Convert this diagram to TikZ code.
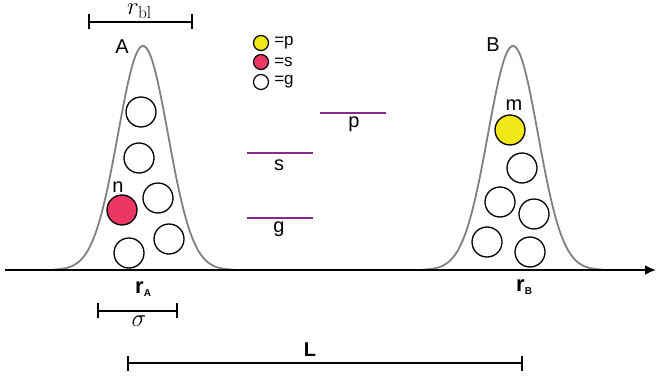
\documentclass[tikz,border=0pt]{standalone}
\usepackage[no-math]{fontspec}
\setmainfont{Liberation Sans}
\usetikzlibrary{arrows.meta}

\definecolor{levelpurple}{RGB}{135,40,140}
\definecolor{sred}{RGB}{235,55,100}
\definecolor{pyellow}{RGB}{240,232,25}

\tikzset{
    atom/.style={draw, circle, line width=1.3pt, minimum size=30pt, inner sep=0pt},
    gatom/.style={atom, fill=white},
    satom/.style={atom, fill=sred},
    patom/.style={atom, fill=pyellow},
    keyatom/.style={draw, circle, line width=1.2pt, minimum size=15pt, inner sep=0pt},
    level/.style={draw=levelpurple, line width=2.8pt},
    bell/.style={draw=black!50, line width=1.8pt},
    ruler/.style={line width=1.8pt, {Bar[width=15pt]}-{Bar[width=15pt]}},
    lab/.style={inner sep=0pt, font=\fontsize{20}{22}\selectfont},
    keylab/.style={inner sep=0pt, anchor=west, xshift=5pt, font=\fontsize{17}{19}\selectfont},
}

\begin{document}
\begin{tikzpicture}[x=1pt, y=-1pt]
        \useasboundingbox (0,0) rectangle (656,379);

        % gaussian wells
        \draw[bell] plot[domain=-90:90, samples=121] ({143+\x}, {270-224*exp(-((\x)*(\x))/1250)});
        \draw[bell] plot[domain=-90:90, samples=121] ({513+\x}, {270-224*exp(-((\x)*(\x))/1250)});

        % axis
        \coordinate (axisL) at (5,270);
        \coordinate (axisR) at (656,270);
        \draw[line width=2pt, -{Latex[length=11pt, width=10pt]}] (axisL) -- (axisR);

        % atoms in A
        \node[gatom] (a1) at (141,112) {};
        \node[gatom] (a2) at (139,158) {};
        \node[gatom] (a3) at (158,198) {};
        \node[satom] (a4) at (122,210) {};
        \node[gatom] (a5) at (169,239) {};
        \node[gatom] (a6) at (129,253) {};

        % atoms in B
        \node[patom] (b1) at (510,130) {};
        \node[gatom] (b2) at (522,168) {};
        \node[gatom] (b3) at (500,202) {};
        \node[gatom] (b4) at (534,214) {};
        \node[gatom] (b5) at (487,242) {};
        \node[gatom] (b6) at (530,252) {};

        \node[lab] (labA) at (122,47) {A};
        \node[lab] (labB) at (493,45) {B};
        \node[lab] (labn) at (118,187) {n};
        \node[lab] (labm) at (514,105) {m};

        % legend
        \node[keyatom, fill=pyellow] (k1) at (261,43) {};
        \node[keyatom, fill=sred] (k2) at (261,62) {};
        \node[keyatom, fill=white] (k3) at (261,82) {};
        \node[keylab] (k1t) at (k1.east) {=p};
        \node[keylab] (k2t) at (k2.east) {=s};
        \node[keylab] (k3t) at (k3.east) {=g};

        % levels
        \coordinate (p1) at (320,113);
        \coordinate (p2) at (386,113);
        \coordinate (s1) at (247,153);
        \coordinate (s2) at (313,153);
        \coordinate (g1) at (247,218);
        \coordinate (g2) at (313,218);
        \draw[level] (p1) -- (p2);
        \draw[level] (s1) -- (s2);
        \draw[level] (g1) -- (g2);
        \node[lab] (labp) at (354,124) {p};
        \node[lab] (labs) at (279,165) {s};
        \node[lab] (labg) at (279,229) {g};

        % rulers
        \coordinate (bl1) at (88,22);
        \coordinate (bl2) at (193,22);
        \draw[ruler] (bl1) -- (bl2);
        \node[inner sep=0pt, anchor=base west, font=\fontsize{23}{25}\selectfont] (labbl) at (127,15) {$r_{\mathrm{bl}}$};

        \coordinate (sg1) at (97,311);
        \coordinate (sg2) at (178,311);
        \draw[ruler] (sg1) -- (sg2);
        \node[inner sep=0pt, font=\fontsize{24}{26}\selectfont] (labsg) at (139,321) {$\sigma$};

        \coordinate (L1) at (127,363);
        \coordinate (L2) at (523,363);
        \draw[ruler] (L1) -- (L2);
        \node[inner sep=0pt, font=\fontsize{20}{22}\selectfont\bfseries] (labL) at (310,350) {L};

        \node[inner sep=0pt, anchor=base west, font=\fontsize{22}{24}\selectfont\bfseries] (rA) at (135,294) {r\raisebox{-3pt}{\fontsize{10}{11}\selectfont A}};
        \node[inner sep=0pt, anchor=base west, font=\fontsize{22}{24}\selectfont\bfseries] (rB) at (516,292) {r\raisebox{-3pt}{\fontsize{10}{11}\selectfont B}};
    \end{tikzpicture}
\end{document}
